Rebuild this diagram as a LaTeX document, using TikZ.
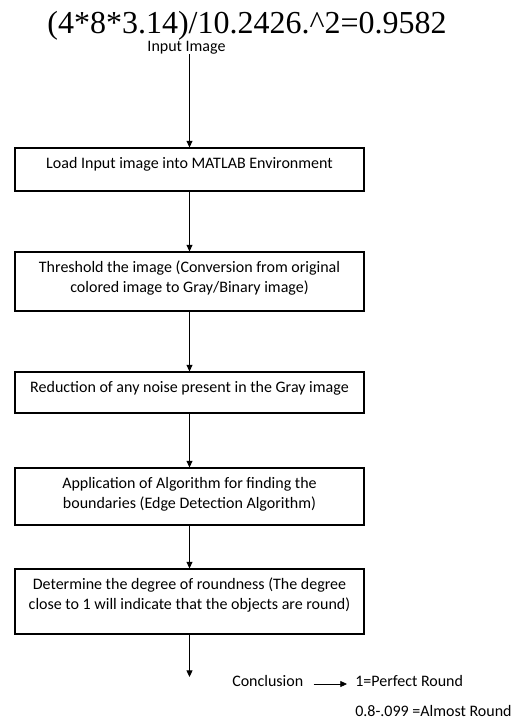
\documentclass[tikz,border=0pt]{standalone}
\usepackage{fontspec}
\setmainfont{Carlito}
\newfontfamily\titlefont{Liberation Serif}
\usetikzlibrary{arrows.meta,positioning}

\begin{document}
\begin{tikzpicture}[
    x = 0.75pt, y = -0.75pt,
    every node/.append style = {align = center, inner sep = 0pt},
    stepbox/.style = {draw, line width = 0.8pt, minimum width = 261.75pt},
    step txt/.style = {font = \fontsize{12}{15}\selectfont},
    side lbl/.style = {font = \fontsize{12}{15}\selectfont, anchor = base west},
    flow/.style = {-{Triangle[length = 5pt, width = 4.5pt]}, line width = 0.8pt}
]
\useasboundingbox (0,0) rectangle (519,722);

\node[anchor = base, font = \titlefont\fontsize{24}{28}\selectfont] (title) at (247,33)
    {(4*8*3.14)/10.2426.\textasciicircum2=0.9582};
\node[step txt, anchor = base] (input) at (186.5,51) {Input Image};

% the five steps
\foreach \n/\y/\h/\txt in {
    1/169.5/32.25/{Load Input image into MATLAB Environment},
    2/281.5/44.25/{Threshold the image (Conversion from original \\ colored image to Gray/Binary image)},
    3/392.5/30.75/{Reduction of any noise present in the Gray image},
    4/496.5/42.75/{Application of Algorithm for finding the \\ boundaries (Edge Detection Algorithm)},
    5/601.5/48.75/{Determine the degree of roundness (The degree \\ close to 1 will indicate that the objects are round)}}{
    \node[stepbox, minimum height = \h pt] (b\n) at (189.5,\y) {};
    \node[step txt, below = 7pt of b\n.north] (t\n) {\txt};
}

\draw[flow] (input.south -| b1.north) -- (b1.north);
\foreach \i/\j in {1/2,2/3,3/4,4/5}{
    \draw[flow] (b\i.south) -- (b\j.north);
}
\coordinate (end) at (189.5,677);
\draw[flow] (b5.south) -- (end);

\node[side lbl] (concl) at (232,686) {Conclusion};
\node[side lbl] (perfect) at (355,686) {1=Perfect Round};
\node[side lbl] (almost) at (355,716) {0.8-.099 =Almost Round};
\draw[flow, line width = 0.6pt, shorten <= 7.5pt, shorten >= 6pt]
    ([yshift = 1.5pt]concl.base east) -- ([yshift = 1.5pt]perfect.base west);

\end{tikzpicture}
\end{document}
